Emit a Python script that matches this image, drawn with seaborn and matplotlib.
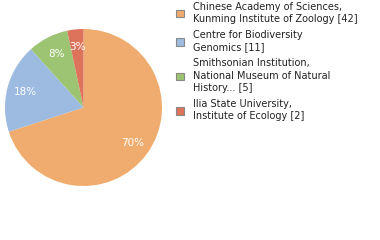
import matplotlib
matplotlib.use("Agg")
import matplotlib.pyplot as plt
from matplotlib.patches import Patch
import seaborn as sns

institutions = [
    "Chinese Academy of Sciences,\nKunming Institute of Zoology",
    "Centre for Biodiversity\nGenomics",
    "Smithsonian Institution,\nNational Museum of Natural\nHistory...",
    "Ilia State University,\nInstitute of Ecology",
]
counts = [42, 11, 5, 2]
colors = ["#F0AC6E", "#9DBBE0", "#9DC472", "#DE735B"]

sns.set_theme(style="white")
plt.rcParams['font.family'] = ['DejaVu Sans']

fig = plt.figure(figsize=(3.8, 2.4), dpi=100)
ax = fig.add_axes([5/380, 54/240, 157/380, 157/240])
wedges, texts, autotexts = ax.pie(
    counts, colors=colors, startangle=90, counterclock=False,
    autopct=lambda p: f"{p:.0f}%", pctdistance=0.77,
    wedgeprops=dict(linewidth=0),
    textprops=dict(color="white", fontsize=7.5),
)
ax.set_xlim(-1, 1)
ax.set_ylim(-1, 1)
ax.set_aspect("equal")

labels = [f"{n} [{c}]" for n, c in zip(institutions, counts)]
handles = [Patch(facecolor=c, edgecolor="#888888", linewidth=0.8) for c in colors]
leg = fig.legend(handles, labels, loc="upper left", bbox_to_anchor=(174/380, 1.0),
                 frameon=False, fontsize=7, handlelength=0.8, handleheight=0.8,
                 handletextpad=0.95, labelspacing=0.6, borderaxespad=0, borderpad=0.2)
for t in leg.get_texts():
    t.set_color("#222222")
    t.set_linespacing(1.3)

fig.savefig("out.png", dpi=100)
